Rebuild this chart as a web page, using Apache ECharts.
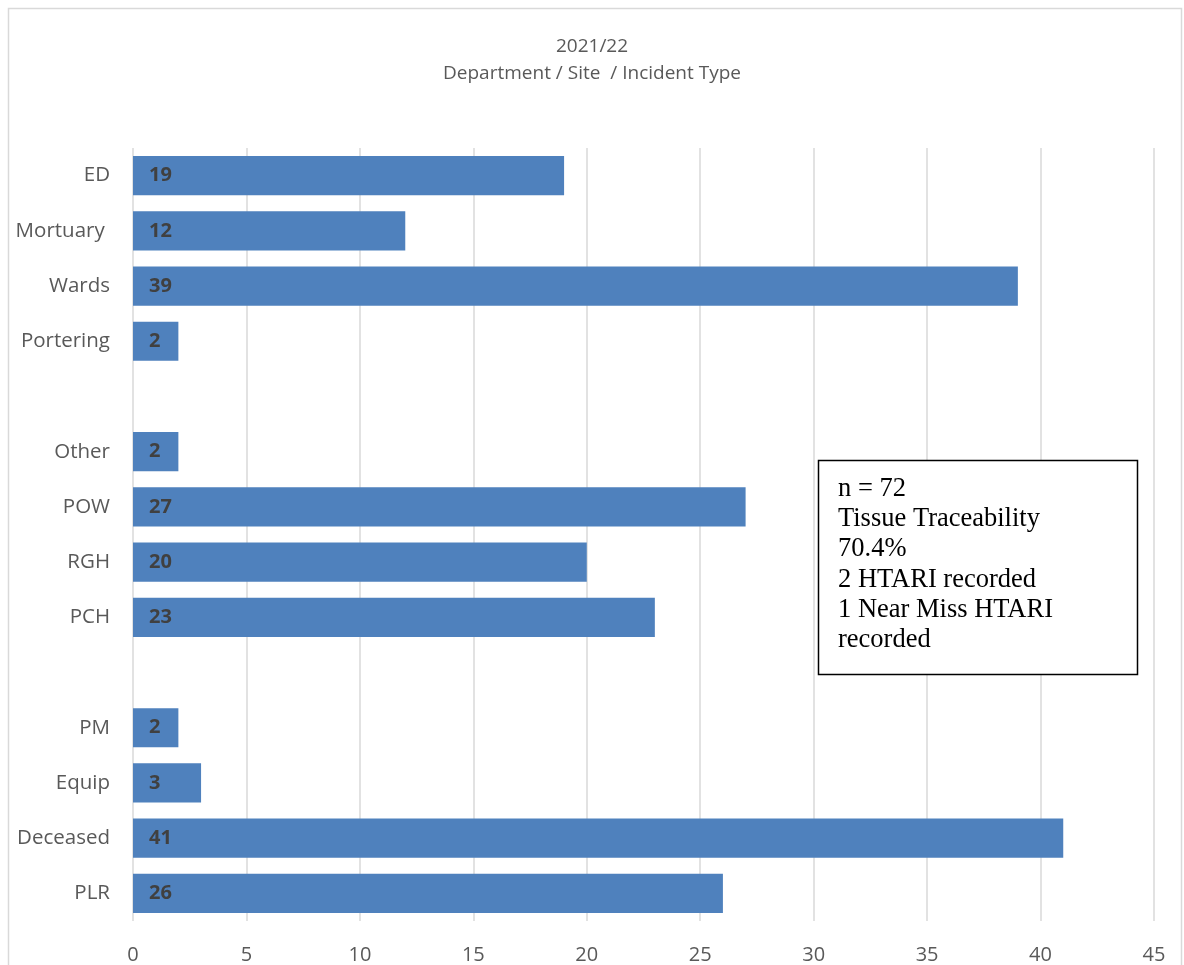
<!DOCTYPE html>
<html>
<head>
<meta charset="utf-8">
<script src="https://cdn.jsdelivr.net/npm/echarts@6/dist/echarts.min.js"></script>
<style>html,body{margin:0;padding:0;background:#fff}#c{width:1184px;height:965px}</style>
</head>
<body>
<div id="c"></div>
<script>
const categories = ['ED','Mortuary ','Wards','Portering',' ','Other','POW','RGH','PCH','  ','PM','Equip','Deceased','PLR'];
const values = [19, 12, 39, 2, null, 2, 27, 20, 23, null, 2, 3, 41, 26];
const xTicks = [0, 45, 5];
const titleLines = ['2021/22', 'Department / Site  / Incident Type'];
const noteLines = ['n = 72', 'Tissue Traceability', '70.4%', '2 HTARI recorded', '1 Near Miss HTARI', 'recorded'];

const chart = echarts.init(document.getElementById('c'), null, {renderer: 'canvas'});
const font = '"Open Sans", Lato, sans-serif';
chart.setOption({
  animation: false,
  backgroundColor: '#fff',
  title: {
    text: titleLines.join('\n'),
    left: 'center',
    top: 28,
    textStyle: {fontFamily: font, fontSize: 19, fontWeight: 'normal', color: '#595959', lineHeight: 27}
  },
  grid: {left: 133, right: 30, top: 148, bottom: 44, containLabel: false},
  xAxis: {
    type: 'value',
    min: xTicks[0], max: xTicks[1], interval: xTicks[2],
    axisLine: {show: false},
    axisTick: {show: false},
    axisLabel: {fontFamily: font, fontSize: 20, color: '#595959', margin: 24},
    splitLine: {show: true, lineStyle: {color: '#d9d9d9', width: 1.5}}
  },
  yAxis: {
    type: 'category',
    data: categories,
    inverse: true,
    axisLine: {show: false},
    axisTick: {show: false},
    axisLabel: {fontFamily: font, fontSize: 20.5, color: '#595959', margin: 23}
  },
  series: [{
    type: 'bar',
    data: values,
    barCategoryGap: '29%',
    itemStyle: {color: '#4f81bd'},
    label: {
      show: true,
      position: 'insideLeft',
      distance: 16,
      fontFamily: font, fontSize: 20, fontWeight: 'bold', color: '#404040'
    }
  }],
  graphic: [
    {type: 'rect', shape: {x: 8.5, y: 8.5, width: 1173, height: 975}, style: {fill: null, stroke: '#d9d9d9', lineWidth: 1.5}, z: 100},
    {type: 'rect', shape: {x: 818.5, y: 460.5, width: 319, height: 214}, style: {fill: '#fff', stroke: '#000', lineWidth: 1.5}, z: 100},
    {type: 'text', x: 838, y: 474, style: {text: noteLines.join('\n'), fontFamily: '"Liberation Serif", "Times New Roman", serif', fontSize: 26.5, lineHeight: 30.2, fill: '#000', textVerticalAlign: 'top'}, z: 101}
  ]
});
</script>
</body>
</html>
